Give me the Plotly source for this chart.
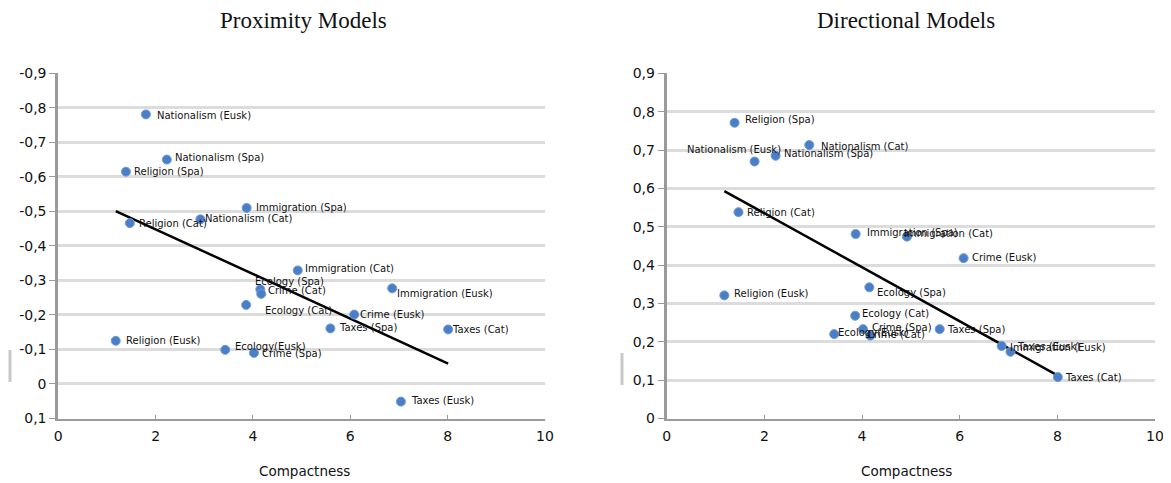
import plotly.graph_objects as go

# ---------------- data ----------------
issues = ["Nationalism (Eusk)", "Nationalism (Spa)", "Religion (Spa)", "Immigration (Spa)",
          "Religion (Cat)", "Nationalism (Cat)", "Ecology (Spa)", "Crime (Cat)",
          "Ecology (Cat)", "Religion (Eusk)", "Ecology(Eusk)", "Crime (Spa)",
          "Immigration (Cat)", "Immigration (Eusk)", "Crime (Eusk)", "Taxes (Spa)",
          "Taxes (Cat)", "Taxes (Eusk)"]
compactness = [1.80, 2.23, 1.39, 3.87, 1.47, 2.92, 4.15, 4.17, 3.86, 1.18, 3.43, 4.02,
               4.92, 6.86, 6.08, 5.59, 8.01, 7.04]
proximity = [-0.781, -0.650, -0.615, -0.510, -0.466, -0.477, -0.274, -0.261, -0.229, -0.125,
             -0.099, -0.090, -0.329, -0.277, -0.201, -0.161, -0.158, 0.051]
directional = [0.670, 0.685, 0.771, 0.481, 0.538, 0.713, 0.342, 0.216, 0.268, 0.321,
               0.220, 0.233, 0.474, 0.189, 0.418, 0.233, 0.108, 0.174]

trend_x = [1.18, 8.01]
prox_trend = [-0.501, -0.059]
dir_trend = [0.593, 0.112]

prox_ticks = [-0.9, -0.8, -0.7, -0.6, -0.5, -0.4, -0.3, -0.2, -0.1, 0.0, 0.1]
prox_ticktext = ["-0,9", "-0,8", "-0,7", "-0,6", "-0,5", "-0,4", "-0,3", "-0,2", "-0,1", "0", "0,1"]
dir_ticks = [0.9, 0.8, 0.7, 0.6, 0.5, 0.4, 0.3, 0.2, 0.1, 0.0]
dir_ticktext = ["0,9", "0,8", "0,7", "0,6", "0,5", "0,4", "0,3", "0,2", "0,1", "0"]
x_ticks = [0, 2, 4, 6, 8, 10]

# ---------------- styling ----------------
# label placement (pixel offset of label's left edge / vertical centre from marker)
left_offsets = {
    "Nationalism (Eusk)": (11, 1), "Nationalism (Spa)": (8, -2), "Religion (Spa)": (8, 0),
    "Immigration (Spa)": (9, 0), "Religion (Cat)": (9, 0), "Nationalism (Cat)": (5, -1),
    "Ecology (Spa)": (-5, -8), "Crime (Cat)": (7, -3), "Ecology (Cat)": (19, 6),
    "Religion (Eusk)": (10, 0), "Ecology(Eusk)": (10, -3), "Crime (Spa)": (8, 1),
    "Immigration (Cat)": (7, -2), "Immigration (Eusk)": (5, 5), "Crime (Eusk)": (6, 0),
    "Taxes (Spa)": (9, -1), "Taxes (Cat)": (4, 0), "Taxes (Eusk)": (10, -1),
}
right_offsets = {
    "Nationalism (Eusk)": (-68, -12), "Nationalism (Spa)": (8, -2), "Religion (Spa)": (10, -3),
    "Immigration (Spa)": (11, -2), "Religion (Cat)": (9, 0), "Nationalism (Cat)": (12, 1),
    "Ecology (Spa)": (8, 5), "Crime (Cat)": (-3, -1), "Ecology (Cat)": (7, -2),
    "Religion (Eusk)": (10, -2), "Ecology(Eusk)": (4, -2), "Crime (Spa)": (9, -2),
    "Immigration (Cat)": (-3, -3), "Immigration (Eusk)": (8, 1), "Crime (Eusk)": (8, -1),
    "Taxes (Spa)": (7, 0), "Taxes (Cat)": (7, 0), "Taxes (Eusk)": (7, -5),
}

# page has an 8px body margin
OFF = 8
W, H = 1171 - OFF, 483 - OFF


def px(x):
    return (x - OFF) / W


def py(y):
    return 1 - (y - OFF) / H


BLUE = "#4A7EC7"
GRID = "#dcdcdc"
AXIS = "#9a9a9a"
LBL_FONT = dict(family="DejaVu Sans", size=10, color="#111")
TICK_FONT = dict(family="DejaVu Sans", size=14, color="#111")

fig = go.Figure()


def add_panel(yvals, trend, offsets, xa, ya):
    fig.add_trace(go.Scatter(
        x=trend_x, y=trend, mode="lines", xaxis=xa, yaxis=ya,
        line=dict(color="black", width=2.5), hoverinfo="skip", showlegend=False))
    fig.add_trace(go.Scatter(
        x=compactness, y=yvals, mode="markers", text=issues, xaxis=xa, yaxis=ya,
        cliponaxis=False,
        marker=dict(color=BLUE, size=9, symbol="circle",
                    line=dict(color="#6f9ad6", width=1)),
        showlegend=False))
    for name, xv, yv in zip(issues, compactness, yvals):
        dx, dy = offsets[name]
        fig.add_annotation(x=xv, y=yv, xref=xa, yref=ya, text=name, showarrow=False,
                           xanchor="left", yanchor="middle", xshift=dx - 1, yshift=-dy,
                           borderpad=0, font=LBL_FONT)


add_panel(proximity, prox_trend, left_offsets, "x", "y")
add_panel(directional, dir_trend, right_offsets, "x2", "y2")

x_common = dict(range=[0, 10], tickvals=x_ticks, ticktext=[str(v) for v in x_ticks],
                showgrid=False, zeroline=False, showline=True, linecolor=AXIS, linewidth=2,
                ticks="inside", ticklen=4, tickcolor=AXIS, tickfont=TICK_FONT,
                ticklabelstandoff=4, automargin=False)
y_common = dict(showgrid=True, gridcolor=GRID, gridwidth=2.5, zeroline=False,
                showline=True, linecolor=AXIS, linewidth=3, ticks="outside",
                ticklen=6, tickcolor=AXIS, tickfont=TICK_FONT, automargin=False)

Y_DOM = [py(418.5), py(73.3)]

fig.update_layout(
    width=W, height=H,
    margin=dict(l=0, r=0, t=0, b=0),
    paper_bgcolor="white", plot_bgcolor="white",
    xaxis=dict(domain=[px(58.3), px(545)], anchor="y", **x_common),
    yaxis=dict(domain=Y_DOM, anchor="x", range=[0.1, -0.9], tickvals=prox_ticks,
               ticktext=prox_ticktext, **y_common),
    xaxis2=dict(domain=[px(666.7), px(1155)], anchor="y2", **x_common),
    yaxis2=dict(domain=Y_DOM, anchor="x2", range=[0, 0.9], tickvals=dir_ticks,
                ticktext=dir_ticktext, **y_common),
)

TITLE_FONT = dict(family="Liberation Serif", size=23, color="#111")
AX_FONT = dict(family="DejaVu Sans", size=13.5, color="#111")
for txt, cx, cy, f in [("Proximity Models", 303, 20, TITLE_FONT),
                       ("Directional Models", 906, 20, TITLE_FONT),
                       ("Compactness", 304, 471, AX_FONT),
                       ("Compactness", 906, 471, AX_FONT)]:
    fig.add_annotation(text=txt, x=px(cx), y=py(cy), xref="paper", yref="paper",
                       xanchor="center", yanchor="middle", showarrow=False, font=f)

# clipped vertical axis-title remnants
for x0, y0, y1 in [(10, 350, 382), (622, 353, 385)]:
    fig.add_shape(type="line", xref="paper", yref="paper",
                  x0=px(x0), x1=px(x0), y0=py(y0), y1=py(y1),
                  line=dict(color="#c8c8c8", width=3))

fig.write_html("out.html")
